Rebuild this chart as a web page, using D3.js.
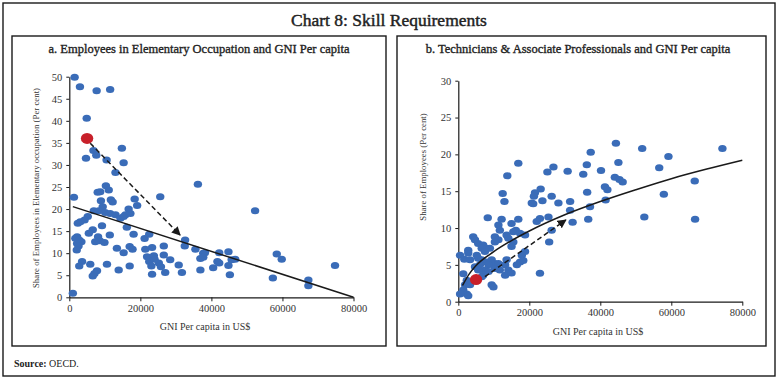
<!DOCTYPE html>
<html>
<head>
<meta charset="utf-8">
<script src="https://cdn.jsdelivr.net/npm/d3@7"></script>
<style>
  html, body { margin: 0; padding: 0; background: #fff; }
  svg { display: block; }
  text { font-family: "Liberation Serif", "DejaVu Serif", serif; }
</style>
</head>
<body>
<svg id="chart" width="778" height="380"></svg>
<script>
// ---------------- DATA ----------------
const chartTitle = "Chart 8: Skill Requirements";
const titleA = "a. Employees in Elementary Occupation and GNI Per capita";
const titleB = "b. Technicians & Associate Professionals and GNI Per capita";
const xLabel = "GNI Per capita in US$";
const yLabelA = "Share of Employees in Elementary occupation (Per cent)";
const yLabelB = "Share of Employees  (Per cent)";
const xTicks = [0, 20000, 40000, 60000, 80000];
const yTicksA = [0, 5, 10, 15, 20, 25, 30, 35, 40, 45, 50];
const yTicksB = [0, 5, 10, 15, 20, 25, 30];

// Panel a: GNI per capita (US$) and share in elementary occupations (%)
const gniA = [1500,3000,7700,11500,4900,14800,4700,6800,7600,10500,15300,13000,36200,1300,10300,11100,8000,8700,11700,12200,
  25600,18400,19100,8900,16700,9400,17200,15800,6900,8300,10100,11500,13000,14400,15300,5200,4300,3100,2400,9200,
  16200,6600,5500,18100,11400,2200,1700,2800,3400,2200,2600,2100,8100,8600,7300,9900,21200,22500,32600,32500,
  35500,13400,15300,17000,17800,21400,23300,26600,21900,23800,26600,22500,24000,25200,28400,23100,25800,27000,30800,31700,
  23300,36900,36900,3600,2800,5900,10600,13900,17000,7800,7100,6600,1000,52300,37700,38200,37700,42200,44800,41700,
  42200,40500,44800,46700,45700,45200,58400,59800,57300,67300,67300,74800];
const shareA = [49.9,47.7,46.8,47.1,40.6,33.8,31.5,33.3,32.2,31.1,30.5,28.3,25.6,22.7,25.3,24.3,23.8,23.9,22.1,21.6,
  22.8,22.3,20.8,21.9,20.0,20.5,19.0,18.7,19.6,19.6,19.2,19.0,18.7,17.9,18.3,18.3,17.5,17.1,16.8,16.2,
  15.9,15.3,14.5,14.3,14.1,13.7,13.4,13.0,12.6,12.2,11.6,10.7,13.7,12.8,12.6,12.4,13.3,14.3,13.0,11.6,
  10.9,11.1,10.1,11.5,10.9,10.9,11.3,11.6,9.2,9.4,9.6,8.1,8.6,7.8,8.5,7.1,6.9,5.6,7.3,5.6,
  5.2,6.2,8.8,8.1,7.1,7.5,7.5,6.2,7.1,6.0,5.4,4.8,0.9,19.6,10.0,10.1,9.1,10.1,10.3,8.1,
  7.8,6.7,7.2,8.6,8.5,5.1,9.8,8.6,4.4,3.9,2.6,7.2];
const highlightA = [5000, 36.0];
const arrowA = [[5900, 34.9], [31200, 14.1]];
const trendA = [[1000, 20.55], [80000, 0.0]];

// Panel b: GNI per capita (US$) and share of technicians & associate professionals (%)
const gniB = [16900,13800,12500,13000,8300,26800,25100,30800,35200,36200,37300,23200,21600,21300,26300,23700,20700,21100,28200,31500,
  31500,32200,36300,36600,25400,23000,22100,26300,25600,23000,12200,11300,11700,15000,16900,16200,15500,17400,18800,4200,
  4700,5600,10300,11300,10300,13600,14100,15500,15000,7000,8000,6600,8900,7500,2800,2800,500,1700,3300,5200,
  5600,6600,8000,9400,10300,18800,17900,17400,16500,18300,13600,13200,14100,13200,15000,11300,10300,11700,8500,7500,
  8500,7000,9400,9900,4700,6100,5600,6600,1400,2400,1900,3300,1400,2400,500,2800,44400,51800,74400,59200,
  40200,45100,56600,44100,45400,46300,41300,42000,41500,37100,66600,57900,52400,66700];
const shareB = [18.8,17.1,14.7,13.6,11.4,18.3,17.6,17.7,17.3,18.6,20.3,15.3,14.8,14.3,14.3,13.7,13.4,13.3,13.4,13.6,
  12.4,10.8,14.85,11.2,11.5,11.3,10.9,9.7,8.1,3.85,11.2,10.4,9.7,10.6,11.2,9.7,9.5,9.3,9.05,8.8,
  8.4,7.9,8.8,8.4,8.1,9.05,8.6,8.1,7.5,7.7,7.25,7.25,7.25,6.8,7.0,6.6,6.3,5.75,5.7,6.3,
  5.9,5.7,5.4,5.7,5.2,6.8,6.3,5.4,5.0,5.6,5.7,5.0,4.3,3.6,3.9,5.2,4.5,4.3,5.0,4.3,
  4.1,3.6,2.3,2.0,4.75,5.0,4.3,3.4,3.8,2.9,2.3,2.3,1.6,1.05,1.05,0.8,21.5,20.8,20.8,19.7,
  17.8,18.9,18.2,16.9,16.6,16.25,15.6,15.2,13.8,12.9,16.4,14.6,11.5,11.2];
const highlightB = [5000, 3.0];
const arrowB = [[7500, 3.4], [30300, 11.1]];
const trendB = [[1200,2.2],[3000,3.7],[5000,4.9],[10000,6.8],[15000,8.3],[20000,9.6],[30000,11.8],
  [40000,13.6],[50000,15.2],[60000,16.7],[70000,18.0],[80000,19.2]];

// ---------------- DRAW ----------------
const svg = d3.select("#chart");
const blue = "#3a6cb8", red = "#c8202a", ink = "#1a1a1a";

svg.append("rect").attr("x", 3).attr("y", 3).attr("width", 772).attr("height", 373)
  .attr("fill", "none").attr("stroke", ink).attr("stroke-width", 1.4);
svg.append("text").attr("x", 389).attr("y", 26).attr("text-anchor", "middle")
  .attr("font-size", 17.5).attr("fill", "#222").attr("stroke", "#222").attr("stroke-width", 0.45)
  .text(chartTitle);

const src = svg.append("text").attr("x", 14).attr("y", 367).attr("font-size", 10).attr("fill", "#222");
src.append("tspan").attr("font-weight", "bold").text("Source: ");
src.append("tspan").text("OECD.");

svg.append("defs").append("marker").attr("id", "arrowhead")
  .attr("viewBox", "0 0 10 10").attr("refX", 9).attr("refY", 5)
  .attr("markerWidth", 6).attr("markerHeight", 6).attr("orient", "auto")
  .append("path").attr("d", "M0,0 L10,5 L0,10 Z").attr("fill", ink);

function panel(cfg) {
  const g = svg.append("g");
  g.append("rect").attr("x", cfg.box[0]).attr("y", cfg.box[1]).attr("width", cfg.box[2]).attr("height", cfg.box[3])
    .attr("fill", "none").attr("stroke", ink).attr("stroke-width", 1.4);
  g.append("text").attr("x", cfg.titleX).attr("y", 53).attr("text-anchor", "middle")
    .attr("font-size", 12.5).attr("fill", "#222").attr("stroke", "#222").attr("stroke-width", 0.35)
    .text(cfg.title);

  const x = d3.scaleLinear().domain([0, 80000]).range(cfg.xr);
  const y = d3.scaleLinear().domain(cfg.yd).range(cfg.yr);

  const ax = g.append("g").attr("transform", `translate(0,${cfg.yr[0]})`)
    .call(d3.axisBottom(x).tickValues(xTicks).tickFormat(d3.format("d")).tickSize(4).tickPadding(3).tickSizeOuter(0));
  const ay = g.append("g").attr("transform", `translate(${cfg.xr[0]},0)`)
    .call(d3.axisLeft(y).tickValues(cfg.yTicks).tickSize(3).tickPadding(4).tickSizeOuter(0));
  [ax, ay].forEach(a => {
    a.select(".domain").attr("stroke", ink).attr("stroke-width", 1.2);
    a.selectAll(".tick line").attr("stroke", ink).attr("stroke-width", 1);
    a.selectAll(".tick text").attr("font-family", "Liberation Serif, serif").attr("font-size", 10.5).attr("fill", "#333");
  });

  g.append("text").attr("x", cfg.xLabelX).attr("y", cfg.yr[0] + 33).attr("text-anchor", "middle")
    .attr("font-size", 10).attr("fill", "#333").text(xLabel);
  g.append("text").attr("transform", `translate(${cfg.yLabelPos[0]},${cfg.yLabelPos[1]}) rotate(-90)`)
    .attr("text-anchor", "middle").attr("font-size", 8.8).attr("fill", "#333").text(cfg.yLabel);

  const pts = cfg.gni.map((v, i) => [v, cfg.share[i]]);
  g.append("g").selectAll("ellipse").data(pts).join("ellipse")
    .attr("cx", d => x(d[0])).attr("cy", d => y(d[1]))
    .attr("rx", 4.2).attr("ry", 3.5).attr("fill", blue);

  const line = d3.line().x(d => x(d[0])).y(d => y(d[1]));
  g.append("path").datum(cfg.trend).attr("d", line.curve(d3.curveMonotoneX))
    .attr("fill", "none").attr("stroke", ink).attr("stroke-width", 1.5);

  g.append("ellipse").attr("cx", x(cfg.hl[0])).attr("cy", y(cfg.hl[1]))
    .attr("rx", 6.2).attr("ry", 5.5).attr("fill", red);

  g.append("path").datum(cfg.arrow).attr("d", d3.line().x(d => x(d[0])).y(d => y(d[1])))
    .attr("fill", "none").attr("stroke", ink).attr("stroke-width", 1.5)
    .attr("stroke-dasharray", "5,3").attr("marker-end", "url(#arrowhead)");
}

panel({
  box: [12, 36, 374, 310], title: titleA, titleX: 199,
  xr: [69.3, 353.5], yr: [297.3, 76.7], yd: [0, 50], yTicks: yTicksA,
  xLabelX: 205, yLabel: yLabelA, yLabelPos: [39, 188],
  gni: gniA, share: shareA, trend: trendA, hl: highlightA, arrow: arrowA
});
panel({
  box: [397, 36, 369, 310], title: titleB, titleX: 578,
  xr: [458.3, 742.3], yr: [301.7, 80.7], yd: [0, 30], yTicks: yTicksB,
  xLabelX: 598, yLabel: yLabelB, yLabelPos: [426, 167],
  gni: gniB, share: shareB, trend: trendB, hl: highlightB, arrow: arrowB
});
</script>
</body>
</html>
